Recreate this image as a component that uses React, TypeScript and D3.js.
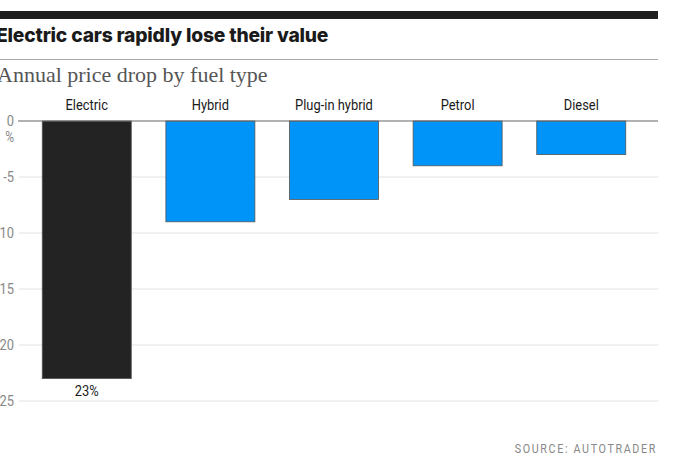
import React from "react";
import * as d3 from "d3";

const categories = ["Electric", "Hybrid", "Plug-in hybrid", "Petrol", "Diesel"];
const priceDrop = [-23, -9, -7, -4, -3];
const yTicks = [0, -5, -10, -15, -20, -25];

const W = 700;
const H = 470;
const sans = "Roboto, 'Liberation Sans', sans-serif";
const squeeze = 0.86; // fake a condensed face

// condensed text helper: squeezes horizontally around its anchor point
function Narrow(props: {
  x: number;
  y: number;
  anchor?: "start" | "middle" | "end";
  size?: number;
  fill?: string;
  spacing?: number;
  children: React.ReactNode;
}) {
  const { x, y, anchor = "middle", size = 15, fill = "#1a1a1a", spacing = 0 } = props;
  return (
    <text
      transform={`translate(${x},${y}) scale(${squeeze},1)`}
      dy="0.35em"
      textAnchor={anchor}
      fontFamily={sans}
      fontSize={size}
      fill={fill}
      letterSpacing={spacing}
    >
      {props.children}
    </text>
  );
}

export default function App() {
  const x = d3
    .scaleBand<string>()
    .domain(categories)
    .range([20, 648])
    .paddingInner(0.28)
    .paddingOuter(0.18);

  const y = d3.scaleLinear().domain([0, -25]).range([121, 401]);

  return (
    <svg
      width={W}
      height={H}
      style={{ position: "absolute", left: 0, top: 0, background: "#fff" }}
    >
      {/* header */}
      <rect x={0} y={11} width={658} height={8} fill="#1e1e1e" />
      <text
        x={-4}
        y={42}
        fontFamily="Inter, Roboto, sans-serif"
        fontWeight={800}
        fontSize={19.3}
        fill="#1a1a1a"
        letterSpacing={-0.2}
      >
        Electric cars rapidly lose their value
      </text>
      <line x1={0} x2={658} y1={59.5} y2={59.5} stroke="#aaa" strokeWidth={1} />
      <text
        x={-3}
        y={82}
        fontFamily="'Liberation Serif', 'DejaVu Serif', serif"
        fontSize={22}
        fill="#555"
      >
        Annual price drop by fuel type
      </text>

      {/* grid + y axis */}
      {yTicks.map((t) => (
        <g key={t}>
          {t !== 0 && (
            <line
              x1={19}
              x2={658}
              y1={y(t)}
              y2={y(t)}
              stroke="#e2e2e2"
              strokeWidth={1}
            />
          )}
          <Narrow x={14} y={y(t)} anchor="end" size={15} fill="#888">
            {t}
          </Narrow>
        </g>
      ))}
      <Narrow x={14} y={y(0) + 16} anchor="end" size={14} fill="#888">
        %
      </Narrow>

      {/* bars */}
      {categories.map((c, i) => {
        const v = priceDrop[i];
        const bx = x(c) ?? 0;
        return (
          <g key={c}>
            <rect
              x={bx}
              y={y(0)}
              width={x.bandwidth()}
              height={y(v) - y(0)}
              fill={i === 0 ? "#232323" : "#0094f9"}
              stroke="#555"
              strokeWidth={0.8}
            />
            <Narrow x={bx + x.bandwidth() / 2} y={105}>
              {c}
            </Narrow>
          </g>
        );
      })}
      <line x1={18} x2={658} y1={y(0)} y2={y(0)} stroke="#666" strokeWidth={1.2} />

      {/* value label */}
      <Narrow
        x={(x(categories[0]) ?? 0) + x.bandwidth() / 2}
        y={y(priceDrop[0]) + 12}
      >
        {`${Math.abs(priceDrop[0])}%`}
      </Narrow>

      {/* source */}
      <Narrow x={657} y={449} anchor="end" size={12.5} fill="#888" spacing={1.9}>
        SOURCE: AUTOTRADER
      </Narrow>
    </svg>
  );
}
